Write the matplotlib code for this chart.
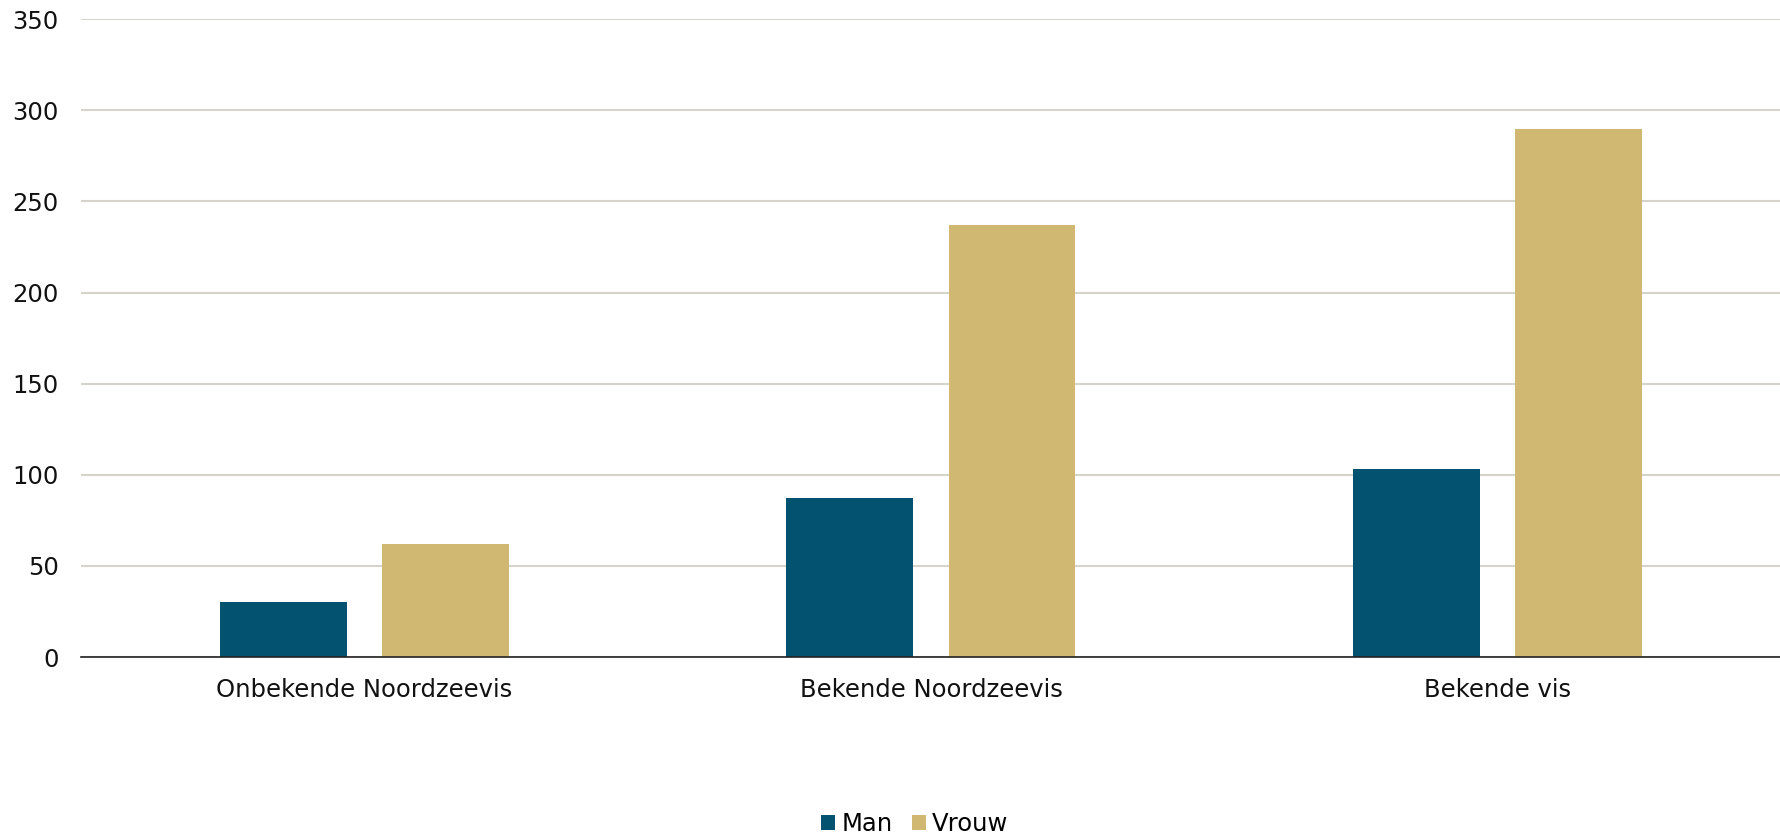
import numpy as np
import matplotlib.pyplot as plt

# fish categories and counts per gender
categories = ["Onbekende Noordzeevis", "Bekende Noordzeevis", "Bekende vis"]
man = [30, 87, 103]
vrouw = [62, 237, 290]
yticks = [0, 50, 100, 150, 200, 250, 300, 350]

c_man = "#03526f"
c_vrouw = "#d0b872"

fig = plt.figure(figsize=(17.81, 8.38), dpi=100)
ax = fig.add_axes([81 / 1781, 1 - 657 / 838, 1 - 81 / 1781, (657 - 19.3) / 838])

x = np.arange(len(categories))
w = 0.224
off = 0.143
ax.bar(x - off, man, width=w, color=c_man, label="Man", zorder=3)
ax.bar(x + off, vrouw, width=w, color=c_vrouw, label="Vrouw", zorder=3)

ax.set_xlim(-0.5, len(categories) - 0.5)
ax.set_ylim(0, 350)
ax.set_yticks(yticks)
ax.set_xticks(x)
ax.set_xticklabels(categories)
ax.grid(axis="y", color="#d6d3ca", linewidth=1.5, zorder=0)
ax.tick_params(axis="y", length=0, pad=16, labelsize=17.5, labelcolor="#111111")
ax.tick_params(axis="x", length=0, pad=15, labelsize=17.5, labelcolor="#111111")

for s in ["top", "right", "left"]:
    ax.spines[s].set_visible(False)
ax.spines["bottom"].set_color("#222222")
ax.spines["bottom"].set_linewidth(1.2)
ax.spines["bottom"].set_zorder(4)

fig.legend(loc="center", bbox_to_anchor=(915 / 1781, 1 - 824 / 838), ncol=2,
           frameon=False, fontsize=17.5, handlelength=0.58, handleheight=0.58,
           handletextpad=0.25, columnspacing=0.8, borderpad=0)

fig.savefig("out.png", dpi=100)
